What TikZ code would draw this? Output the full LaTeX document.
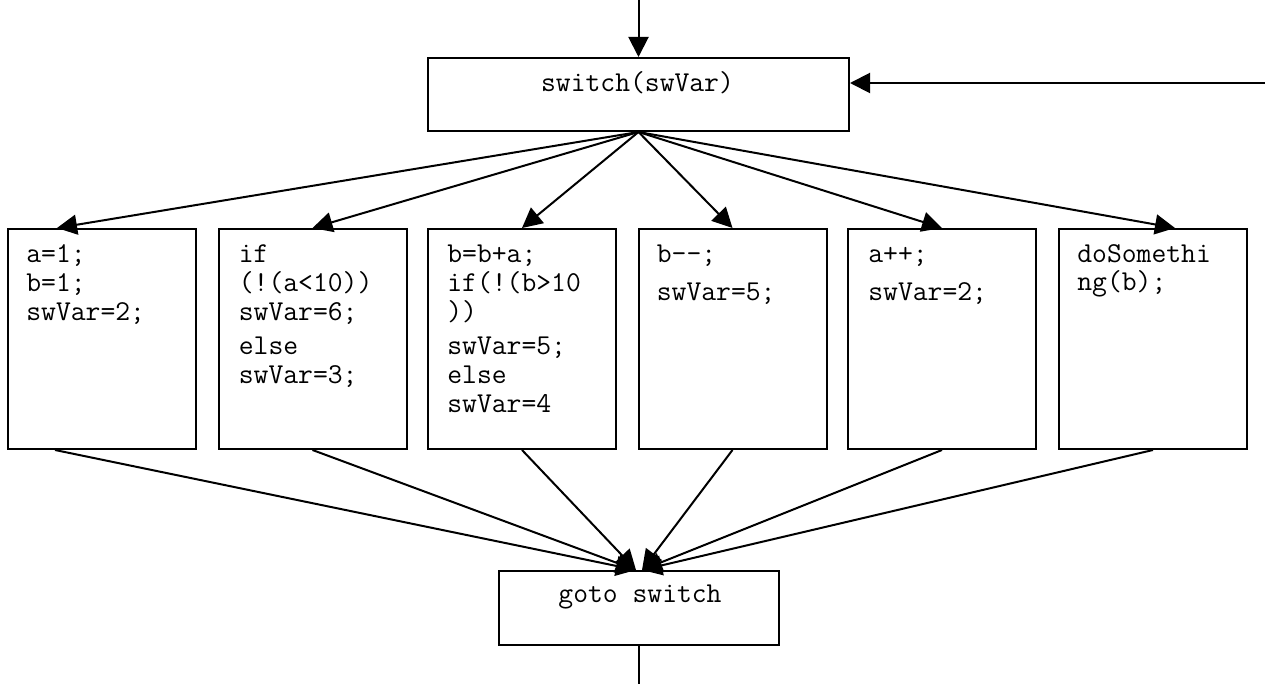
\documentclass[tikz,border=0pt]{standalone}
\usepackage{fontspec}
\usetikzlibrary{arrows.meta}
\begin{document}
\begin{tikzpicture}[x=0.5pt,y=-0.5pt,
  boxnode/.style={draw, line width=1pt, inner sep=0pt},
  casebox/.style={boxnode, minimum width=94pt, minimum height=110pt},
  code/.style={font=\ttfamily\fontsize{14.4pt}{14.5pt}\selectfont, inner sep=0pt},
  codeblock/.style={code, text width=90pt, align=left, anchor=base west},
  conn/.style={line width=1pt},
  arr/.style={conn, -{Triangle[length=10pt,width=10pt]}}]
\useasboundingbox (0,0) rectangle (1265,684);

% switch box
\node[boxnode, minimum width=210.5pt, minimum height=36.5pt] (sw) at (638.5,94.5) {};
\node[code, anchor=base] (swt) at (637.5,92) {switch(swVar)};

% case boxes
\node[casebox] (c1) at (102,339) {};
\node[casebox] (c2) at (312.5,339) {};
\node[casebox] (c3) at (522,339) {};
\node[casebox] (c4) at (732.5,339) {};
\node[casebox] (c5) at (942,339) {};
\node[casebox] (c6) at (1153,339) {};

\node[codeblock] (t1) at ([shift={(19,35)}]c1.north west) {a=1;\\b=1;\\swVar=2;};
\node[codeblock] (t2) at ([shift={(21,35)}]c2.north west) {if\\(!(a<10))\\swVar=6;\\[2.5pt]else\\swVar=3;};
\node[codeblock] (t3) at ([shift={(20,35)}]c3.north west) {b=b+a;\\if(!(b>10\\))\\[2.5pt]swVar=5;\\else\\swVar=4};
\node[codeblock] (t4) at ([shift={(19,35)}]c4.north west) {b-{}-;\\[4.3pt]swVar=5;};
\node[codeblock] (t5) at ([shift={(21,35)}]c5.north west) {a++;\\[4.3pt]swVar=2;};
\node[codeblock] (t6) at ([shift={(19,35)}]c6.north west) {doSomethi\\[-0.85pt]ng(b);};

% goto box
\node[boxnode, minimum width=140pt, minimum height=37pt] (gt) at (639,608) {};
\node[code, anchor=base] (gtt) at (640,603) {goto switch};

% free ends
\coordinate (in) at (638.5,0);
\coordinate (loopin) at (1265,83);
\coordinate (out) at (639,684);
\coordinate (gl) at ([xshift=-1.5pt]gt.north);
\coordinate (gr) at ([xshift=1.5pt]gt.north);

% connectors
\draw[arr] (in) -- (sw.north);
\draw[arr] (loopin) -- (loopin -| sw.east);

\draw[arr] (sw.south) -- ([xshift=-22.5pt]c1.north);
\draw[arr] (sw.south) -- (c2.north);
\draw[arr] (sw.south) -- (c3.north);
\draw[arr] (sw.south) -- (c4.north);
\draw[arr] (sw.south) -- (c5.north);
\draw[arr] (sw.south) -- ([xshift=11pt]c6.north);

\draw[arr] ([xshift=-23.5pt]c1.south) -- (gl);
\draw[arr] (c2.south) -- (gl);
\draw[arr] (c3.south) -- (gl);
\draw[arr] (c4.south) -- (gr);
\draw[arr] (c5.south) -- (gr);
\draw[arr] (c6.south) -- (gr);

\draw[conn] (gt.south) -- (out);
\end{tikzpicture}
\end{document}
